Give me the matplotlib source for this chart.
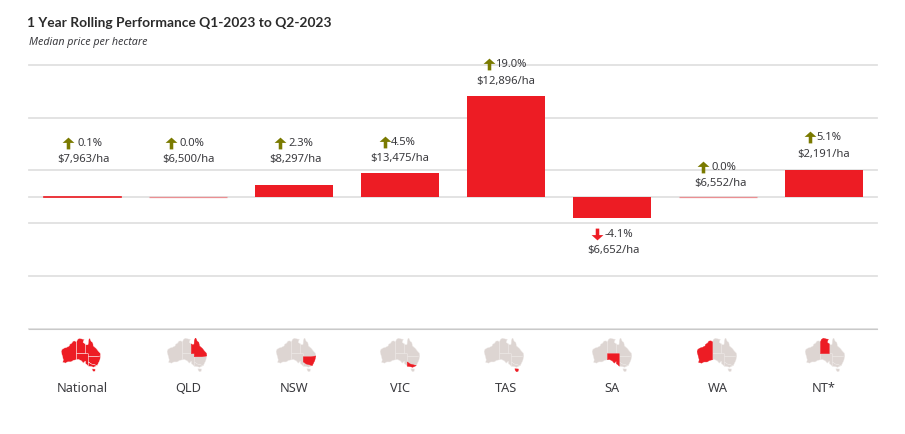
import matplotlib
matplotlib.use("Agg")
import matplotlib.pyplot as plt
from matplotlib.patches import Polygon
from matplotlib.path import Path
from matplotlib.transforms import Affine2D

plt.rcParams["font.family"] = ["Noto Sans", "DejaVu Sans"]

categories = ["National", "QLD", "NSW", "VIC", "TAS", "SA", "WA", "NT*"]
change_pct = [0.1, 0.0, 2.3, 4.5, 19.0, -4.1, 0.0, 5.1]
change_labels = ["0.1%", "0.0%", "2.3%", "4.5%", "19.0%", "-4.1%", "0.0%", "5.1%"]
price_labels = ["$7,963/ha", "$6,500/ha", "$8,297/ha", "$13,475/ha",
                "$12,896/ha", "$6,652/ha", "$6,552/ha", "$2,191/ha"]
grid_values = [-25, -15, -5, 0, 5, 15, 25]

# which state polygons are red on each little map
highlighted = [
    ["WA", "NT", "SA", "QLD", "NSW", "VIC", "TAS"],
    ["QLD"], ["NSW"], ["VIC"], ["TAS"], ["SA"], ["WA"], ["NT"],
]

# rough state outlines, lon/lat
states = {
    "WA": [(129, -14.6), (127.5, -13.6), (125.5, -13.8), (124, -15.8), (122, -17), (121.5, -18.5),
           (119, -19.8), (116.5, -20.5), (114.2, -21.8), (113.3, -24), (114, -26.5), (115, -30),
           (115.5, -32), (114.9, -34.5), (118, -35.2), (120, -34), (123.5, -34), (126, -32.5),
           (129, -31.9)],
    "NT": [(129, -14.6), (130, -12.2), (132, -11), (135, -11.8), (137, -12), (135.7, -15),
           (138, -16.5), (138, -26), (129, -26)],
    "SA": [(129, -26), (141, -26), (141, -38.2), (139.7, -36.8), (138.2, -35.8), (138, -33.2),
           (136, -35.2), (134, -33), (131, -31.6), (129, -31.9)],
    "QLD": [(138, -16.5), (139.5, -17.5), (140.8, -17), (141.2, -13), (142.3, -10.3),
            (144, -14), (145.6, -15), (146.3, -18.5), (149.3, -21), (151.3, -23.5), (153.3, -25.5),
            (153.8, -28.2), (149, -29), (141, -29), (141, -26), (138, -26)],
    "NSW": [(141, -29), (149, -29), (153.8, -28.2), (152.8, -32.5), (150.2, -37.6), (148, -37),
            (144, -36), (141, -34)],
    "VIC": [(141, -34), (144, -36), (148, -37), (150.2, -37.6), (146.5, -39.2), (144, -38.6),
            (141, -38.2)],
    "TAS": [(144.7, -40.7), (148.3, -40.9), (148, -43), (146.5, -43.6), (145.3, -42.5)],
}

RED = "#ed1c24"
OLIVE = "#7a7a00"
MAP_GREY = "#ddd5d2"
TEXT = "#3b3b3f"
W, H = 905, 435

# label layout, pixels relative to the bar centre / zero line
price_y = [38, 38, 38, 39, 116, -53, 14, 43]
pct_gap_y = [16, 16, 16, 16, 17, 16, 16, 17]
arrow_dx = [-14, -17, -14, -15, -17, -15, -15, -14]
pct_dx = [-5, -9, -6, -9, -11, -7, -7, -8]
price_dx = [1, 0, 1, 0, 0, 1, 2, 0]
map_centres = [81, 187, 296, 400, 504, 612, 717, 825]

ARROW = Path([(-0.15, -0.5), (0.15, -0.5), (0.15, 0.05), (0.5, 0.05), (0, 0.5), (-0.5, 0.05),
              (-0.15, 0.05), (-0.15, -0.5)], closed=True)
ARROW_DOWN = Path([(x, -y) for x, y in ARROW.vertices], closed=True)


def px_axes(x0, y0, x1, y1):
    return fig.add_axes([x0 / W, 1 - y1 / H, (x1 - x0) / W, (y1 - y0) / H])


fig = plt.figure(figsize=(W / 100, H / 100), dpi=100)
ax = px_axes(29, 65.7, 877, 329.7)
ax.set_xlim(-0.5, len(categories) - 0.5)
ax.set_ylim(-25, 25)

xs = list(range(len(categories)))
for x, v in zip(xs, change_pct):
    # the flat bars only show as a thin line
    if v == 0:
        edge, lw = "#eb8f92", 0.9
    elif abs(v) <= 0.1:
        edge, lw = RED, 0.5
    else:
        edge, lw = "none", 0
    ax.bar(x, v, width=0.727, color=RED, edgecolor=edge, linewidth=lw, zorder=3)

ax.set_yticks(grid_values)
ax.set_yticklabels([])
ax.grid(axis="y", color="#e1e1e1", linewidth=1.3, zorder=0)
for line in ax.get_ygridlines():
    line.set_clip_on(False)
ax.tick_params(axis="y", length=0)
ax.set_axisbelow(True)
for s in ax.spines.values():
    s.set_visible(False)
ax.spines["bottom"].set_visible(True)
ax.spines["bottom"].set_color("#c9c9c9")
ax.spines["bottom"].set_linewidth(0.8)

ax.set_xticks(xs)
ax.set_xticklabels(categories, fontsize=9.2, color=TEXT)
ax.tick_params(axis="x", length=0, pad=37.5)

for i, x in enumerate(xs):
    ax.annotate(price_labels[i], xy=(x, 0), xytext=(price_dx[i], price_y[i]),
                textcoords="offset pixels", ha="center", va="center", fontsize=8.1, color=TEXT,
                annotation_clip=False)
    up = change_pct[i] >= 0
    pct_y = price_y[i] + pct_gap_y[i]
    ax.annotate(change_labels[i], xy=(x, 0), xytext=(pct_dx[i], pct_y),
                textcoords="offset pixels", ha="left", va="center", fontsize=8.1, color=TEXT,
                annotation_clip=False)
    # arrow marker, placed the same way as the text
    ax.plot([x], [0], marker=ARROW if up else ARROW_DOWN, markersize=8.5,
            color=OLIVE if up else RED, markeredgewidth=0, clip_on=False, zorder=5,
            transform=ax.transData + Affine2D().translate(arrow_dx[i], pct_y))

fig.text(27 / W, 1 - 23 / H, "1 Year Rolling Performance Q1-2023 to Q2-2023", fontsize=9.9,
         fontweight="bold", family="Lato", color="#2b2b2b", ha="left", va="center")
fig.text(29 / W, 1 - 42 / H, "Median price per hectare", fontsize=7.7, style="italic",
         color=TEXT, ha="left", va="center")

# little state maps under the bars
for centre, active in zip(map_centres, highlighted):
    mx = px_axes(centre - 20, 338.5, centre + 20, 373)
    mx.set_xlim(113.2, 154)
    mx.set_ylim(-43.8, -10.3)
    mx.axis("off")
    single = len(active) == 1
    for name, pts in states.items():
        on = name in active
        edge = "white" if not single else (RED if on else "#eee9e7")
        mx.add_patch(Polygon(pts, closed=True, facecolor=RED if on else MAP_GREY,
                             edgecolor=edge, linewidth=0.3, zorder=2 if on else 1))

fig.savefig("out.png", dpi=100)
